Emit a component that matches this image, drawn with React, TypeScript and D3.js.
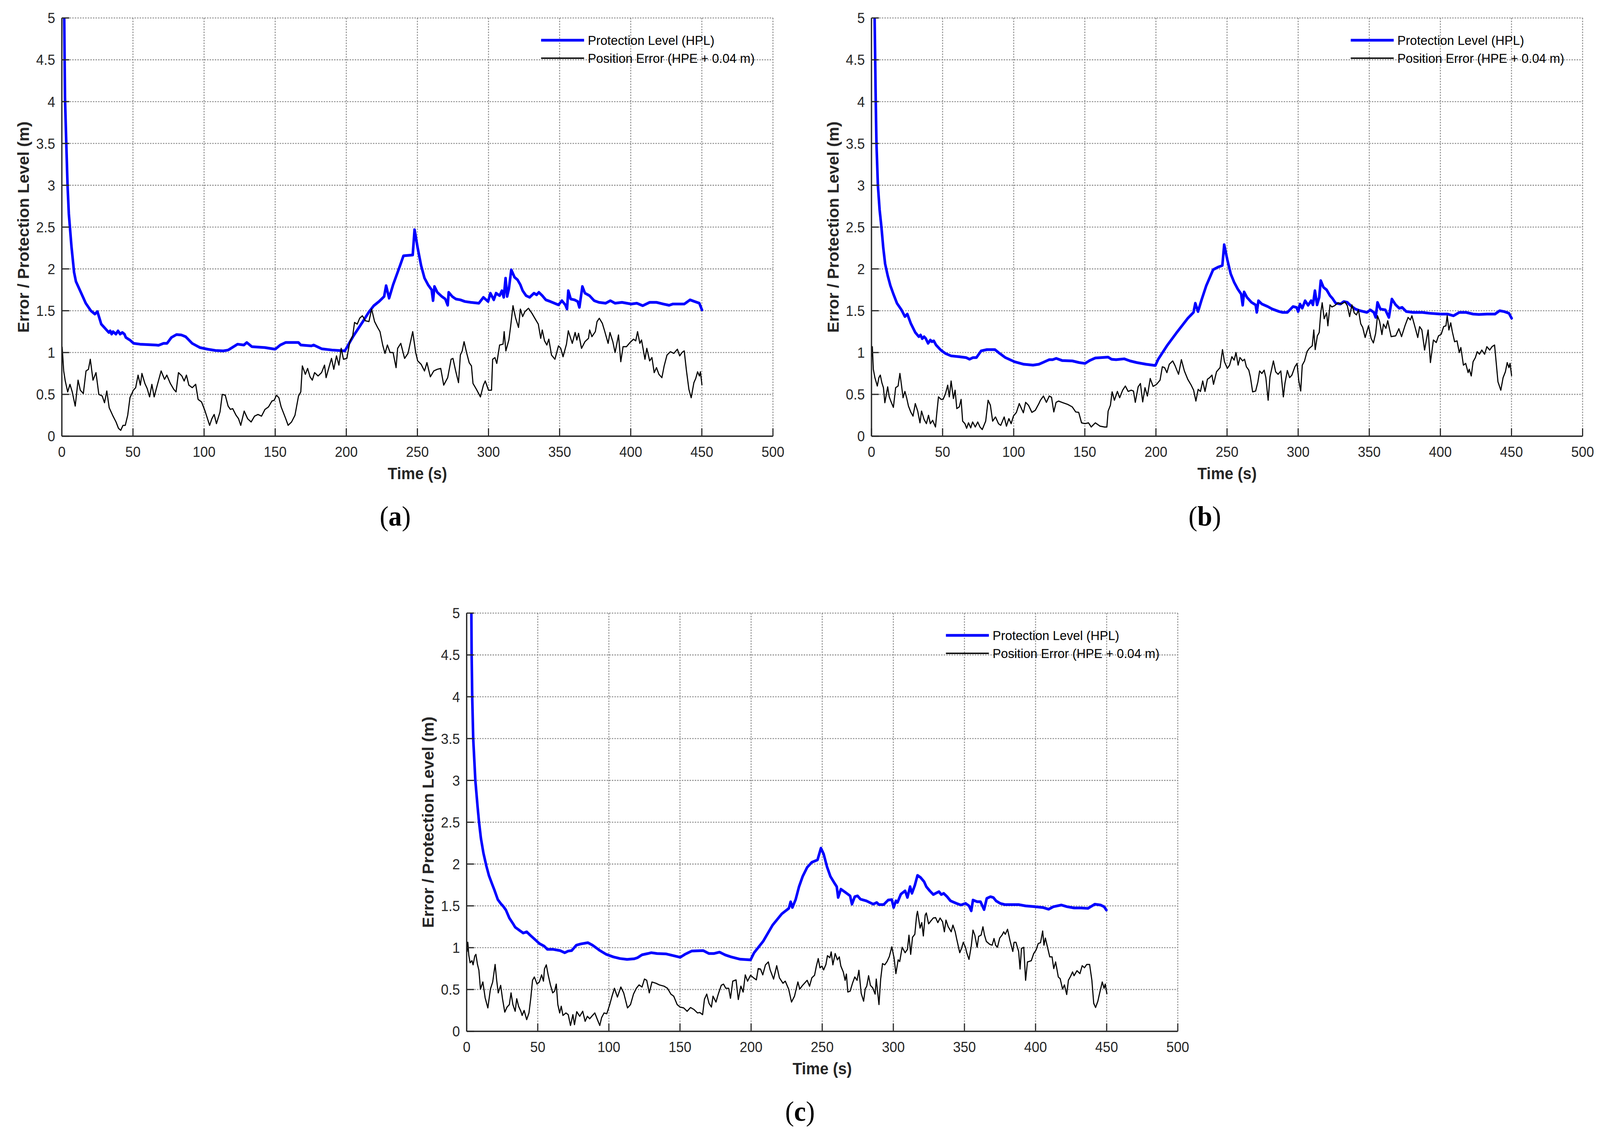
import * as d3 from 'd3';

type Pt = [number, number];

// axis ticks and texts
const xTicks = [0, 50, 100, 150, 200, 250, 300, 350, 400, 450, 500];
const yTicks = [0, 0.5, 1, 1.5, 2, 2.5, 3, 3.5, 4, 4.5, 5];
const seriesNames = ['Protection Level (HPL)', 'Position Error (HPE + 0.04 m)'];
const panelLetters = ['a', 'b', 'c'];

// (a) protection level, [time s, metres]
const hplA: Pt[] = [
  [1.5, 5.3], [2.2, 4.05], [3.1, 3.51], [4.0, 3.0], [4.9, 2.66], [6.75, 2.27], [8.6, 1.96], [9.9, 1.85],
  [13.1, 1.73], [16.8, 1.59], [20.4, 1.5], [23.2, 1.46], [25, 1.49], [27.7, 1.34], [31.4, 1.27], [33, 1.24],
  [34, 1.26], [35, 1.22], [36, 1.25], [38, 1.22], [39.5, 1.26], [41, 1.22], [42.5, 1.24], [44, 1.22],
  [45, 1.18], [47.8, 1.15], [50.5, 1.11], [55, 1.1], [66, 1.09], [68, 1.087], [71.5, 1.11], [74, 1.11],
  [77, 1.18], [80.6, 1.215], [84, 1.21], [87, 1.19], [91.6, 1.11], [97, 1.06], [102.5, 1.04], [108, 1.025],
  [113.5, 1.02], [117, 1.03], [123.5, 1.1], [128, 1.09], [130, 1.12], [133.6, 1.07], [142.7, 1.06], [150, 1.04],
  [153.6, 1.09], [157.3, 1.12], [166.4, 1.12], [168, 1.09], [175.5, 1.08], [177, 1.09], [182.7, 1.045], [190, 1.03],
  [199, 1.02], [202, 1.11], [204.7, 1.19], [212, 1.38], [215.7, 1.48], [219.3, 1.56], [223, 1.61], [226.6, 1.67],
  [228, 1.8], [230.1, 1.65], [232.9, 1.81], [237.8, 2.04], [240.2, 2.157], [246.7, 2.166], [248, 2.47], [250.2, 2.25],
  [252.6, 2.04], [255, 1.89], [257.5, 1.81], [260, 1.75], [261, 1.62], [262, 1.79], [264, 1.72], [267.2, 1.67],
  [269.6, 1.64], [271.3, 1.565], [272, 1.72], [274.5, 1.67], [277, 1.64], [280.2, 1.63], [283.4, 1.61], [287.5, 1.6],
  [293.2, 1.59], [296.4, 1.66], [299.7, 1.61], [301.3, 1.71], [303.7, 1.63], [305.3, 1.71], [307.8, 1.68], [309.4, 1.74],
  [310.7, 1.66], [312, 1.89], [313.1, 1.67], [314.3, 1.76], [316, 1.99], [318.3, 1.9], [320.4, 1.87], [322.4, 1.81],
  [324, 1.74], [326.4, 1.68], [328.9, 1.66], [332, 1.71], [333.8, 1.69], [335.4, 1.72], [337.8, 1.68], [340.3, 1.63],
  [343.5, 1.61], [349.2, 1.57], [351.6, 1.62], [354, 1.57], [355.2, 1.52], [356.1, 1.74], [357.8, 1.64], [360.5, 1.63],
  [362.7, 1.61], [363.9, 1.54], [366, 1.79], [367.8, 1.71], [371, 1.68], [374.3, 1.62], [377.6, 1.6], [382.4, 1.59],
  [385.7, 1.62], [388.9, 1.59], [393.8, 1.6], [400.3, 1.58], [404.3, 1.59], [408.4, 1.56], [413.3, 1.6], [418.1, 1.6],
  [423, 1.58], [427, 1.565], [429.5, 1.58], [437.6, 1.58], [441.7, 1.63], [444.9, 1.61], [448.2, 1.59], [450.1, 1.51],
];

// (a) position error
const peA: Pt[] = [
  [0.2, 1.07], [1.3, 0.78], [2.4, 0.66], [4.1, 0.53], [5.7, 0.62], [7.3, 0.53], [9.4, 0.36], [11.4, 0.67],
  [13, 0.55], [15.1, 0.51], [17, 0.78], [18.7, 0.8], [20, 0.92], [21.9, 0.67], [24, 0.76], [26, 0.5],
  [28.4, 0.48], [30, 0.4], [31.6, 0.54], [33.3, 0.34], [35.7, 0.25], [38.1, 0.17], [39.8, 0.095], [41.4, 0.07],
  [43, 0.13], [44.6, 0.13], [46.3, 0.25], [47.9, 0.46], [50.3, 0.55], [51.9, 0.58], [53.6, 0.73], [55.2, 0.61],
  [56.3, 0.75], [58.4, 0.63], [60, 0.57], [61.7, 0.47], [63.3, 0.62], [64.9, 0.47], [67.4, 0.63], [69.8, 0.78],
  [72.2, 0.68], [73.8, 0.73], [76.3, 0.63], [78.7, 0.56], [80.3, 0.53], [82, 0.76], [84.4, 0.72], [86, 0.66],
  [87.6, 0.73], [89.3, 0.61], [91.7, 0.58], [94.1, 0.62], [95.8, 0.44], [98.2, 0.41], [100.6, 0.305], [103.9, 0.13],
  [105.5, 0.21], [107.1, 0.26], [108.7, 0.15], [111.2, 0.29], [112.8, 0.5], [114.9, 0.49], [116.9, 0.36], [118.5, 0.32],
  [120.1, 0.33], [122.5, 0.25], [124.2, 0.21], [125.8, 0.13], [128.2, 0.3], [130.6, 0.21], [133.1, 0.17], [135.5, 0.24],
  [137.9, 0.26], [140.4, 0.24], [142.8, 0.32], [145.3, 0.35], [147.7, 0.42], [149.3, 0.43], [150.9, 0.49], [152.6, 0.46],
  [154.2, 0.35], [155.8, 0.28], [157.4, 0.21], [159.1, 0.13], [161.5, 0.17], [163.9, 0.25], [166.4, 0.48], [168, 0.53],
  [169.1, 0.84], [171.2, 0.74], [172.8, 0.81], [174.5, 0.71], [176.1, 0.67], [177.7, 0.76], [180.2, 0.72], [182.6, 0.76],
  [184.7, 0.85], [185.8, 0.7], [187.9, 0.83], [189.6, 0.93], [191.2, 0.8], [193.1, 0.96], [194.8, 0.85], [196.4, 1.05],
  [198, 0.92], [200.4, 0.93], [202.5, 1.13], [204.5, 1.2], [205.8, 1.36], [207.7, 1.34], [209.4, 1.41], [211.3, 1.44],
  [213.4, 1.38], [215.9, 1.37], [217.8, 1.52], [219.9, 1.37], [222, 1.3], [223.7, 1.25], [225.6, 1.09], [227.2, 0.99],
  [228.9, 1.09], [230.8, 1.0], [232.9, 1.0], [235, 0.82], [236.1, 1.05], [238.3, 1.11], [241, 0.93], [243.4, 0.99],
  [246.7, 1.25], [248.8, 1.0], [250.2, 0.9], [252.6, 0.86], [255, 0.78], [256.7, 0.88], [259.1, 0.71], [261.5, 0.78],
  [264, 0.8], [266.4, 0.81], [268.5, 0.61], [271.3, 0.7], [273.7, 0.92], [275, 0.93], [276.9, 0.78], [278.9, 0.64],
  [280.2, 0.97], [281.5, 1.02], [282.8, 1.13], [284.7, 0.99], [286.4, 0.88], [288, 0.84], [289.1, 0.63], [291.5, 0.56],
  [294.3, 0.47], [296.4, 0.61], [297.7, 0.66], [300, 0.55], [302.1, 0.55], [302.9, 0.92], [304.5, 0.94], [305.8, 0.87],
  [307.8, 1.09], [310.2, 1.1], [311, 1.25], [312.2, 1.02], [314.3, 1.15], [315.6, 1.32], [317.2, 1.56], [319.1, 1.41],
  [321.1, 1.3], [322.4, 1.52], [324, 1.43], [325.6, 1.49], [328.1, 1.53], [330.5, 1.47], [332.9, 1.4], [335, 1.34],
  [336.7, 1.17], [337.8, 1.27], [339.4, 1.14], [341, 1.09], [342.4, 1.16], [344.3, 0.97], [346.7, 0.92], [349.2, 1.08],
  [350.8, 1.05], [352.4, 0.95], [354.8, 1.1], [356.1, 1.26], [358.9, 1.11], [360.9, 1.24], [362.1, 1.15], [363.3, 1.23],
  [365.4, 1.05], [367.8, 1.13], [370.3, 1.17], [371.1, 1.27], [372.7, 1.19], [375.1, 1.25], [376.3, 1.37], [377.9, 1.41],
  [380, 1.35], [381.6, 1.26], [384.1, 1.11], [385.4, 1.24], [387.4, 1.13], [389, 1.0], [391.4, 1.21], [393, 0.89],
  [394.6, 1.07], [397, 1.07], [399.5, 1.12], [401.9, 1.16], [403.5, 1.14], [404.8, 1.25], [406.4, 1.11], [407.6, 1.15],
  [410, 0.92], [411.3, 1.05], [413.3, 0.9], [414.9, 0.94], [416.5, 0.76], [418.1, 0.82], [419.8, 0.74], [421.9, 0.7],
  [423.5, 0.84], [425.5, 0.97], [427.9, 1.01], [430.3, 0.99], [432.8, 1.04], [434.4, 0.96], [436, 1.0], [437.6, 1.02],
  [439.2, 0.78], [440.9, 0.56], [442.5, 0.46], [444.4, 0.64], [445.7, 0.69], [447, 0.77], [448.3, 0.72], [449, 0.77],
  [450.1, 0.61],
];

// (b) protection level
const hplB: Pt[] = [
  [2.0, 5.3], [2.2, 5.0], [2.6, 4.5], [3.0, 4.0], [3.5, 3.5], [4.5, 3.0], [5.7, 2.71], [7.0, 2.5],
  [8.3, 2.25], [9.6, 2.06], [11.4, 1.92], [13.3, 1.8], [15.4, 1.7], [17.9, 1.59], [21.1, 1.51], [23.5, 1.43],
  [25.2, 1.46], [27.6, 1.35], [30.8, 1.24], [33.3, 1.19], [34.5, 1.21], [35.7, 1.165], [37, 1.19], [38.1, 1.17],
  [39.8, 1.11], [41.4, 1.15], [42.5, 1.13], [43.8, 1.14], [45.4, 1.09], [48.7, 1.03], [51.9, 0.99], [56, 0.96],
  [61.7, 0.95], [66.5, 0.94], [69, 0.92], [71.4, 0.94], [73.8, 0.94], [77.1, 1.02], [81.2, 1.035], [86.8, 1.035],
  [90.1, 0.99], [94.1, 0.94], [100.6, 0.89], [107.1, 0.86], [113.6, 0.85], [117.7, 0.86], [121.7, 0.89], [125, 0.915],
  [127.4, 0.915], [129.9, 0.93], [134, 0.905], [141.2, 0.9], [146.1, 0.88], [150.1, 0.87], [153.4, 0.905], [157.4, 0.935],
  [166.4, 0.945], [168.8, 0.92], [172, 0.915], [177.7, 0.925], [181.8, 0.9], [186.6, 0.88], [193.1, 0.86], [199.6, 0.845],
  [201.6, 0.92], [207.7, 1.08], [214.2, 1.23], [217.4, 1.3], [222.4, 1.41], [226.4, 1.48], [227.7, 1.59], [229.6, 1.49],
  [232.1, 1.63], [235.4, 1.8], [240.2, 1.99], [243.5, 2.02], [246.7, 2.04], [248, 2.29], [250.2, 2.11], [252.6, 1.94],
  [255, 1.84], [257.5, 1.76], [259.9, 1.7], [261, 1.565], [262, 1.725], [264, 1.66], [267.2, 1.6], [270.1, 1.57],
  [270.9, 1.48], [272.1, 1.62], [274.5, 1.58], [278.6, 1.55], [281.8, 1.52], [286.7, 1.49], [289.1, 1.48], [292.4, 1.48],
  [296.4, 1.55], [298.9, 1.54], [300, 1.49], [301.3, 1.58], [302.9, 1.53], [304.9, 1.62], [307, 1.565], [309.1, 1.62],
  [310.4, 1.57], [311.8, 1.74], [313.3, 1.57], [314.8, 1.66], [315.9, 1.86], [317.8, 1.78], [320, 1.75], [322.4, 1.68],
  [324, 1.65], [326.4, 1.59], [329.7, 1.58], [332.1, 1.61], [334.6, 1.6], [337, 1.56], [340.2, 1.52], [343.5, 1.5],
  [348.4, 1.48], [350.8, 1.51], [353.2, 1.48], [354.5, 1.42], [355.8, 1.6], [357.8, 1.52], [361.3, 1.51], [363.8, 1.42],
  [365.9, 1.64], [368.6, 1.57], [371.1, 1.53], [373.1, 1.54], [376, 1.49], [380.8, 1.48], [387.3, 1.48], [392.2, 1.47],
  [400.3, 1.46], [405.2, 1.46], [409.2, 1.44], [413.3, 1.48], [418.1, 1.48], [423, 1.46], [427.1, 1.455], [432.8, 1.46],
  [438.4, 1.46], [441.7, 1.5], [444.9, 1.49], [448.2, 1.47], [450.1, 1.41],
];

// (b) position error
const peB: Pt[] = [
  [0.3, 0.95], [0.6, 1.07], [1.3, 0.8], [2.4, 0.7], [4.1, 0.6], [5.2, 0.7], [6.2, 0.73], [7.3, 0.64],
  [8.4, 0.58], [9.4, 0.4], [11.4, 0.59], [12.5, 0.47], [13.8, 0.41], [15.4, 0.345], [17, 0.58], [18.7, 0.6],
  [20, 0.75], [21.1, 0.61], [22.2, 0.46], [23.5, 0.535], [24.7, 0.46], [26, 0.36], [27.6, 0.29], [29.2, 0.24],
  [30.8, 0.39], [32.5, 0.3], [34.1, 0.16], [35.2, 0.3], [37, 0.2], [38.6, 0.15], [40.1, 0.25], [41.4, 0.15],
  [43, 0.19], [45, 0.11], [45.9, 0.27], [47.1, 0.47], [49, 0.44], [50.3, 0.44], [51.9, 0.5], [53.6, 0.61],
  [54.7, 0.47], [56, 0.66], [57.6, 0.45], [58.8, 0.55], [60, 0.33], [61.7, 0.35], [63, 0.44], [64.1, 0.18],
  [65.7, 0.15], [66.9, 0.095], [68.2, 0.16], [69.8, 0.1], [71.1, 0.17], [73, 0.11], [74.7, 0.17], [76.3, 0.11],
  [77.9, 0.08], [80.3, 0.18], [82, 0.43], [83.6, 0.37], [85.2, 0.18], [87.2, 0.23], [89.3, 0.15], [90.9, 0.13],
  [93.3, 0.23], [94.9, 0.12], [96.6, 0.21], [98.2, 0.15], [99.8, 0.24], [101.9, 0.285], [103.9, 0.39], [106.8, 0.28],
  [108.4, 0.405], [110.4, 0.37], [112.8, 0.285], [115.2, 0.31], [117.7, 0.39], [118.8, 0.43], [120.9, 0.48], [123, 0.405],
  [125, 0.48], [126.6, 0.465], [128.2, 0.29], [129.8, 0.405], [131.5, 0.42], [134.7, 0.4], [138, 0.38], [141.2, 0.35],
  [143.6, 0.29], [145.7, 0.285], [147.7, 0.16], [150.1, 0.15], [152.6, 0.16], [154.5, 0.11], [157.4, 0.16], [160.7, 0.12],
  [163.9, 0.11], [165.5, 0.11], [166.4, 0.3], [168, 0.37], [169.2, 0.53], [170.8, 0.43], [172.9, 0.535], [174.5, 0.46],
  [176.6, 0.55], [178.5, 0.6], [180.5, 0.535], [182.6, 0.55], [184.2, 0.54], [185.5, 0.405], [187.5, 0.59], [189.1, 0.63],
  [190.7, 0.41], [192.3, 0.58], [194, 0.48], [196, 0.69], [198, 0.595], [200.4, 0.62], [202.9, 0.67], [204.5, 0.83],
  [206.1, 0.82], [207.7, 0.76], [209.4, 0.86], [211.8, 0.9], [213.4, 0.845], [215.9, 0.74], [217.9, 0.915], [220, 0.78],
  [222.4, 0.68], [224.8, 0.61], [226.5, 0.55], [228.1, 0.42], [229.7, 0.56], [231.3, 0.535], [232.9, 0.66], [234.5, 0.535],
  [236.2, 0.68], [237.8, 0.7], [239.4, 0.73], [240.5, 0.62], [242.6, 0.77], [245.1, 0.82], [246.8, 1.035], [248.2, 0.89],
  [250.2, 0.81], [251.8, 0.85], [253.4, 0.95], [255, 0.91], [256.3, 1.0], [257.8, 0.85], [259.1, 0.94], [261, 0.9],
  [262.3, 0.92], [263.6, 0.83], [265.3, 0.79], [266.4, 0.71], [268, 0.53], [270.1, 0.54], [271.7, 0.65], [272.9, 0.78],
  [274.5, 0.75], [276.1, 0.79], [277.3, 0.7], [278.9, 0.43], [280.2, 0.71], [282.6, 0.9], [284.2, 0.77], [285.9, 0.74],
  [287.8, 0.78], [289.6, 0.47], [290.7, 0.63], [292.4, 0.785], [294, 0.7], [295.6, 0.73], [297.7, 0.83], [299.2, 0.87],
  [300.5, 0.66], [301.8, 0.54], [302.9, 0.85], [304.5, 0.9], [306.2, 1.01], [307.8, 1.05], [309.9, 1.08], [311, 1.27],
  [312, 1.035], [313.5, 1.2], [314.8, 1.24], [315.9, 1.475], [316.9, 1.595], [318.3, 1.405], [320, 1.475], [320.9, 1.32],
  [322.4, 1.57], [323.7, 1.545], [325.6, 1.56], [328.1, 1.595], [330.5, 1.58], [332.9, 1.605], [334.6, 1.56], [336.2, 1.43],
  [337.8, 1.57], [339.4, 1.475], [341, 1.45], [342.4, 1.51], [344, 1.345], [345.4, 1.3], [347.1, 1.18], [349.5, 1.32],
  [351.3, 1.17], [352.9, 1.115], [354.5, 1.23], [355.8, 1.44], [357.3, 1.37], [358.9, 1.215], [360, 1.34], [361.7, 1.29],
  [363, 1.38], [365.4, 1.19], [368.6, 1.2], [370.8, 1.285], [372.7, 1.19], [375.1, 1.32], [377.3, 1.42], [378.9, 1.39],
  [380, 1.44], [382.4, 1.29], [384.1, 1.18], [385.4, 1.31], [387, 1.27], [388.9, 1.03], [391.4, 1.27], [393, 0.88],
  [395.1, 1.15], [397.1, 1.12], [398.7, 1.2], [400.6, 1.22], [402.3, 1.31], [403.9, 1.32], [404.8, 1.44], [406, 1.27],
  [407.3, 1.355], [408.4, 1.25], [410, 1.13], [411.7, 1.14], [413.3, 1.0], [414.4, 1.06], [416.2, 0.85], [417.8, 0.87],
  [419.5, 0.76], [420.3, 0.8], [421.7, 0.72], [423, 0.89], [424.6, 0.94], [425.9, 1.01], [427.5, 0.98], [429.1, 1.03],
  [431.1, 0.98], [432.7, 1.07], [434.7, 1.03], [436.3, 1.07], [438.1, 1.09], [439.2, 0.89], [440.5, 0.65], [442.5, 0.55],
  [444.1, 0.7], [445.7, 0.77], [447, 0.88], [448.2, 0.82], [449, 0.87], [450.1, 0.72],
];

// (c) protection level
const hplC: Pt[] = [
  [3.0, 5.4], [3.3, 5.0], [3.5, 4.5], [3.9, 4.0], [4.6, 3.5], [6.1, 3.0], [7.65, 2.69], [8.7, 2.5],
  [10, 2.31], [11.8, 2.13], [13.8, 1.98], [15.7, 1.86], [17.9, 1.76], [19.5, 1.69], [21.9, 1.575], [24.3, 1.52],
  [25.5, 1.5], [27.6, 1.45], [30, 1.355], [32.5, 1.29], [34.1, 1.245], [37.3, 1.205], [39.8, 1.175], [42.2, 1.19],
  [44.6, 1.15], [47.9, 1.1], [51.1, 1.05], [54.4, 1.02], [56.8, 0.98], [60.9, 0.98], [65.7, 0.965], [69, 0.94],
  [71.4, 0.96], [73.8, 0.965], [77.1, 1.03], [80.3, 1.045], [85.2, 1.06], [88.5, 1.03], [93.3, 0.97], [98.2, 0.92],
  [103.1, 0.89], [107.9, 0.87], [112.8, 0.86], [117.7, 0.867], [120.1, 0.88], [123.3, 0.915], [127.4, 0.93], [129.8, 0.94],
  [133.9, 0.93], [140.4, 0.925], [145.3, 0.905], [150.1, 0.885], [153.4, 0.92], [158.2, 0.96], [166.4, 0.965], [170.4, 0.93],
  [173.7, 0.93], [177.8, 0.947], [181.8, 0.913], [185.9, 0.89], [192.3, 0.862], [199.6, 0.854], [202.1, 0.94], [208.6, 1.08],
  [215.1, 1.27], [221.6, 1.405], [226.5, 1.47], [227.8, 1.55], [229, 1.48], [231.3, 1.575], [233.7, 1.73], [236.2, 1.85],
  [239.4, 1.96], [242.6, 2.02], [246.7, 2.05], [249.1, 2.19], [251, 2.12], [253.4, 1.965], [255.8, 1.85], [258.3, 1.78],
  [260.2, 1.73], [261.2, 1.6], [263.1, 1.7], [266.4, 1.66], [269.6, 1.62], [270.9, 1.52], [272.9, 1.61], [274.8, 1.62],
  [276.9, 1.58], [281, 1.56], [285.9, 1.52], [288.3, 1.54], [289.9, 1.515], [293.2, 1.515], [296.4, 1.57], [298.9, 1.575],
  [300.2, 1.48], [301.8, 1.56], [302.9, 1.54], [305.3, 1.64], [308.3, 1.68], [309.9, 1.6], [311.8, 1.73], [313.1, 1.65],
  [315.1, 1.745], [317, 1.865], [319.1, 1.84], [321.6, 1.79], [323.2, 1.73], [325.6, 1.68], [328.1, 1.635], [329.7, 1.65],
  [332.1, 1.67], [333.7, 1.635], [335.4, 1.65], [337.8, 1.61], [340.2, 1.56], [344.3, 1.53], [347.5, 1.51], [350.8, 1.53],
  [353.2, 1.5], [354.8, 1.44], [356, 1.57], [358.9, 1.55], [361.3, 1.55], [363.8, 1.455], [365.7, 1.59], [368.3, 1.61],
  [370.3, 1.6], [372.2, 1.56], [375.1, 1.53], [378.4, 1.515], [384.1, 1.515], [388.1, 1.515], [393, 1.5], [399.5, 1.49],
  [405.2, 1.48], [409.2, 1.46], [412.5, 1.49], [418.2, 1.51], [422.2, 1.49], [427.1, 1.475], [432, 1.475], [436.8, 1.47],
  [441.7, 1.52], [445.7, 1.51], [448.2, 1.49], [449.8, 1.45],
];

// (c) position error
const peC: Pt[] = [
  [0.3, 0.95], [0.8, 1.065], [1.5, 0.91], [2.4, 0.82], [3.7, 0.845], [4.5, 0.795], [5.7, 0.9], [6.5, 0.92],
  [7.6, 0.8], [8.6, 0.73], [9.7, 0.505], [11.4, 0.59], [13, 0.4], [14.9, 0.28], [16.7, 0.505], [18.3, 0.59],
  [20, 0.8], [21.1, 0.61], [22.2, 0.46], [23.9, 0.55], [25.2, 0.39], [26.8, 0.23], [28.4, 0.29], [30, 0.32],
  [31.2, 0.46], [32.5, 0.32], [34.1, 0.24], [35.2, 0.39], [36.5, 0.3], [38.1, 0.24], [39, 0.19], [40.4, 0.25],
  [42.2, 0.14], [43.8, 0.22], [45.1, 0.4], [46.3, 0.61], [47.6, 0.65], [49.5, 0.565], [51.1, 0.59], [52.7, 0.675],
  [54, 0.6], [54.7, 0.745], [56, 0.795], [57.3, 0.675], [58.9, 0.555], [60.5, 0.46], [61.8, 0.48], [63, 0.565],
  [64.1, 0.32], [65.4, 0.22], [66.5, 0.3], [67.7, 0.19], [69.8, 0.22], [71.4, 0.2], [73, 0.07], [74.7, 0.2],
  [75.8, 0.08], [77.4, 0.235], [79.5, 0.18], [81.6, 0.24], [83.3, 0.12], [84.9, 0.18], [86.5, 0.15], [88.5, 0.19],
  [90.1, 0.22], [91.7, 0.15], [93.6, 0.07], [94.9, 0.165], [96.6, 0.22], [98.5, 0.21], [100.6, 0.32], [102.2, 0.42],
  [103.9, 0.515], [106, 0.41], [108.4, 0.53], [110.4, 0.46], [113.1, 0.28], [115.2, 0.32], [117.3, 0.445], [119.3, 0.515],
  [121.2, 0.555], [123.3, 0.53], [125, 0.625], [126.6, 0.61], [128.4, 0.46], [130.3, 0.59], [133.1, 0.575], [135.5, 0.555],
  [138.8, 0.54], [141.2, 0.515], [143.6, 0.445], [145.6, 0.42], [148, 0.32], [150.1, 0.29], [152.6, 0.28], [155, 0.24],
  [157.4, 0.285], [159.9, 0.26], [162.3, 0.22], [163.9, 0.225], [165.9, 0.2], [167.2, 0.385], [168.8, 0.445], [170.4, 0.335],
  [172.1, 0.29], [173.2, 0.42], [175.3, 0.35], [176.9, 0.445], [179, 0.55], [180.6, 0.565], [182.2, 0.515], [184.2, 0.515],
  [185.5, 0.395], [187.1, 0.6], [189.4, 0.615], [191, 0.38], [192.8, 0.54], [194.4, 0.47], [195.9, 0.675], [197.5, 0.6],
  [199.6, 0.67], [201.7, 0.64], [203.7, 0.615], [205, 0.75], [206.6, 0.745], [208.2, 0.675], [210.1, 0.795], [212.1, 0.83],
  [213.4, 0.735], [215.8, 0.625], [218, 0.785], [219.9, 0.64], [222.4, 0.575], [224, 0.6], [226.4, 0.505], [228.4, 0.35],
  [230.5, 0.42], [232.9, 0.59], [234.2, 0.505], [236.2, 0.55], [239.4, 0.61], [241.1, 0.54], [242.7, 0.64], [244.6, 0.67],
  [245.9, 0.78], [247.2, 0.87], [248.4, 0.76], [249.8, 0.78], [251, 0.735], [252.6, 0.8], [253.7, 0.905], [255.4, 0.88],
  [256.3, 0.95], [257.5, 0.795], [259.1, 0.93], [260.7, 0.855], [262, 0.89], [263.1, 0.78], [264.8, 0.71], [266.1, 0.61],
  [267, 0.685], [268, 0.47], [269.6, 0.48], [271.3, 0.575], [272.9, 0.65], [274.5, 0.61], [275.8, 0.73], [277.4, 0.455],
  [279.1, 0.36], [280.2, 0.505], [281.3, 0.54], [282.6, 0.665], [283.9, 0.55], [285.5, 0.52], [287.2, 0.445], [288, 0.625],
  [289.9, 0.32], [291.1, 0.625], [292.4, 0.81], [294, 0.795], [295.6, 0.835], [297.2, 0.895], [298.9, 1.01], [300.5, 0.88],
  [301.8, 0.69], [303.4, 0.855], [304.5, 0.835], [306.2, 1.005], [308.3, 0.94], [309.9, 0.98], [311, 1.15], [312.2, 0.92],
  [313.5, 1.125], [315.1, 1.16], [316.4, 1.39], [317, 1.435], [318.8, 1.235], [320, 1.3], [321.1, 1.14], [322.4, 1.39],
  [323.2, 1.415], [324.8, 1.285], [326.4, 1.32], [328.1, 1.355], [329.7, 1.36], [331.3, 1.3], [332.9, 1.355], [334.6, 1.31],
  [335.9, 1.19], [337, 1.33], [338.6, 1.25], [340.7, 1.19], [341.9, 1.27], [343.5, 1.19], [344.6, 1.1], [346.7, 0.94],
  [347.9, 0.99], [349.2, 1.065], [350.8, 1.0], [351.6, 0.94], [353.2, 0.86], [354.8, 1.02], [356, 1.21], [357.3, 1.15],
  [358.9, 1.005], [360, 1.135], [361.7, 1.15], [363, 1.25], [364.1, 1.15], [365.4, 1.075], [367.8, 1.04], [369.5, 1.03],
  [370.8, 1.11], [371.9, 1.03], [373.2, 1.005], [374.8, 1.115], [376.4, 1.15], [377.6, 1.19], [378.7, 1.16], [380.3, 1.22],
  [382.1, 1.08], [384, 0.955], [384.9, 1.065], [386.2, 1.065], [388.1, 0.955], [389.1, 0.745], [390.1, 0.99], [391.7, 1.005],
  [393, 0.61], [394.3, 0.83], [395.4, 0.835], [397, 0.845], [398.7, 0.93], [400.3, 0.97], [401.9, 1.05], [403.5, 1.06],
  [405, 1.2], [405.9, 1.03], [406.9, 1.115], [408.4, 1.005], [410, 0.89], [411.6, 0.89], [412.8, 0.75], [414.1, 0.83],
  [416, 0.65], [417.3, 0.63], [419, 0.505], [420.3, 0.555], [421.9, 0.44], [423.1, 0.61], [424.7, 0.66], [426, 0.71],
  [427.1, 0.665], [429.1, 0.725], [431.2, 0.69], [432.8, 0.785], [434.4, 0.76], [436, 0.8], [438, 0.8], [439.6, 0.61],
  [440.9, 0.335], [442.2, 0.285], [443.8, 0.36], [444.9, 0.445], [446.9, 0.59], [448.2, 0.515], [449, 0.565], [450.2, 0.445],
];

const hplSeries = [hplA, hplB, hplC];
const peSeries = [peA, peB, peC];

// layout in reference pixels; the svg is stretched over the whole viewport
const W = 4320;
const H = 2909;
const plotW = 1920;
const plotH = 1071;
const origins = [
  { left: 167, top: 46 },
  { left: 2353, top: 46 },
  { left: 1260, top: 1570 },
];

const sans = '"Liberation Sans", Arial, Helvetica, sans-serif';
const serif = '"Liberation Serif", "Times New Roman", serif';
const axisColor = '#262626';
const gridColor = '#8f8f8f';

function Panel({ idx }: { idx: number }) {
  const { left, top } = origins[idx];
  const letter = panelLetters[idx];
  const x = d3.scaleLinear().domain([0, 500]).range([0, plotW]);
  const y = d3.scaleLinear().domain([0, 5]).range([plotH, 0]);
  const line = d3.line<Pt>().x(d => x(d[0])).y(d => y(d[1]));
  const clipId = `plot-clip-${letter}`;

  return (
    <g transform={`translate(${left},${top})`}>
      <defs>
        <clipPath id={clipId}>
          <rect x={0} y={0} width={plotW} height={plotH} />
        </clipPath>
      </defs>

      {/* dotted grid */}
      {xTicks.filter(t => t > 0).map(t => (
        <line key={`gx${t}`} x1={x(t)} x2={x(t)} y1={0} y2={plotH}
          stroke={gridColor} strokeWidth={2.6} strokeDasharray="3.8 3.2" />
      ))}
      {yTicks.filter(t => t > 0).map(t => (
        <line key={`gy${t}`} x1={0} x2={plotW} y1={y(t)} y2={y(t)}
          stroke={gridColor} strokeWidth={2.6} strokeDasharray="3.8 3.2" />
      ))}

      {/* series */}
      <g clipPath={`url(#${clipId})`}>
        <path d={line(hplSeries[idx]) || ''} fill="none" stroke="#0000ff" strokeWidth={7}
          strokeLinejoin="round" strokeLinecap="round" />
        <path d={line(peSeries[idx]) || ''} fill="none" stroke="#000000" strokeWidth={3}
          strokeLinejoin="round" />
      </g>

      {/* axes */}
      <line x1={0} x2={0} y1={0} y2={plotH} stroke={axisColor} strokeWidth={3.5} />
      <line x1={0} x2={plotW} y1={plotH} y2={plotH} stroke={axisColor} strokeWidth={3.5} />
      {yTicks.map(t => (
        <g key={`ty${t}`}>
          <line x1={0} x2={20} y1={y(t)} y2={y(t)} stroke={axisColor} strokeWidth={3} />
          <text x={-18} y={y(t)} dy="0.36em" textAnchor="end" fontFamily={sans}
            fontSize={37} fill={axisColor}>{String(t)}</text>
        </g>
      ))}
      {xTicks.map(t => (
        <g key={`tx${t}`}>
          <line x1={x(t)} x2={x(t)} y1={plotH} y2={plotH - 20} stroke={axisColor} strokeWidth={3} />
          <text x={x(t)} y={plotH + 53} textAnchor="middle" fontFamily={sans}
            fontSize={37} fill={axisColor}>{String(t)}</text>
        </g>
      ))}

      <text x={plotW / 2} y={plotH + 110} textAnchor="middle" fontFamily={sans}
        fontSize={42} fontWeight="bold" fill={axisColor}>Time (s)</text>
      <text transform={`translate(-104,${plotH / 2}) rotate(-90)`} dy="0.36em" textAnchor="middle"
        fontFamily={sans} fontSize={42} fontWeight="bold" fill={axisColor}>
        Error / Protection Level (m)
      </text>

      {/* legend */}
      <line x1={plotW - 626} x2={plotW - 510} y1={57} y2={57} stroke="#0000ff" strokeWidth={7} />
      <text x={plotW - 500} y={69} fontFamily={sans} fontSize={34} fill="#000">{seriesNames[0]}</text>
      <line x1={plotW - 626} x2={plotW - 510} y1={103} y2={103} stroke="#000" strokeWidth={3.3} />
      <text x={plotW - 500} y={115} fontFamily={sans} fontSize={34} fill="#000">{seriesNames[1]}</text>

      {/* caption */}
      <text x={900} y={plotH + 229} textAnchor="middle" fontFamily={serif} fontSize={72} fill="#000">
        (<tspan fontWeight="bold">{letter}</tspan>)
      </text>
    </g>
  );
}

export default function App() {
  return (
    <svg viewBox={`0 0 ${W} ${H}`} preserveAspectRatio="none"
      style={{ position: 'fixed', left: 0, top: 0, width: '100vw', height: '100vh', background: '#fff' }}>
      <rect width={W} height={H} fill="#fff" />
      {origins.map((_, i) => <Panel key={i} idx={i} />)}
    </svg>
  );
}
